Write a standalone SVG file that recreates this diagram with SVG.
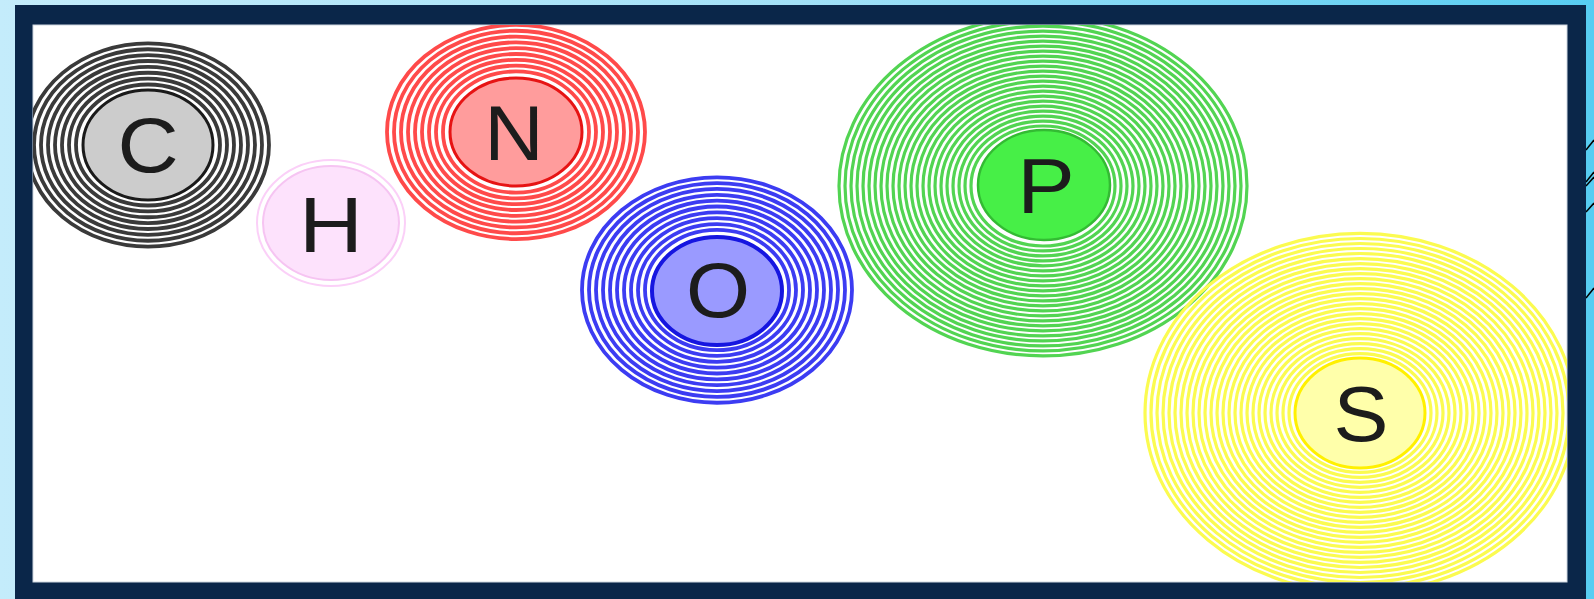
<svg xmlns="http://www.w3.org/2000/svg" width="1594" height="599" viewBox="0 0 1594 599">
<defs>
<linearGradient id="bg" x1="0" y1="0" x2="1" y2="0">
<stop offset="0" stop-color="#c4ecfb"/>
<stop offset="0.5" stop-color="#a3e1f8"/>
<stop offset="1" stop-color="#57cdf2"/>
</linearGradient>
<clipPath id="clip"><rect x="33" y="25" width="1534" height="557"/></clipPath>
</defs>
<style>
.ring{fill:none;vector-effect:non-scaling-stroke}
.rc{stroke:#3a3a3a;stroke-width:3.8}
.rn{stroke:#ff4a4a;stroke-width:3.8}
.ro{stroke:#3c3cf2;stroke-width:3.8}
.rp{stroke:#52d452;stroke-width:3.2}
.rs{stroke:#fbfb50;stroke-width:3.2}
.lbl{font-family:"Liberation Sans",Arial,sans-serif;font-size:77px;fill:#1c1c1c;text-anchor:middle}
.deco{stroke:#000;stroke-width:1.5}
</style>
<rect x="0" y="0" width="1594" height="599" fill="url(#bg)"/>
<g id="right-deco">
<line class="deco" x1="1586" y1="150" x2="1594" y2="140"/>
<line class="deco" x1="1586" y1="182" x2="1594" y2="172"/>
<line class="deco" x1="1586" y1="186" x2="1594" y2="177"/>
<line class="deco" x1="1586" y1="212" x2="1594" y2="203"/>
<line class="deco" x1="1586" y1="298" x2="1594" y2="288"/>
</g>
<rect id="frame" x="15" y="5" width="1571" height="594" fill="#0a2649"/>
<rect id="panel" x="33" y="25" width="1534" height="557" fill="#ffffff" stroke="#cdd6e0" stroke-width="1"/>
<g clip-path="url(#clip)">
<g id="atom-C">
<g transform="translate(148,145) scale(1,0.84)">
<circle class="ring rc" r="72"/><circle class="ring rc" r="79"/><circle class="ring rc" r="86"/><circle class="ring rc" r="93"/><circle class="ring rc" r="100"/><circle class="ring rc" r="107"/><circle class="ring rc" r="114"/><circle class="ring rc" r="121"/>
</g>
<ellipse cx="148" cy="145" rx="65" ry="55" fill="#cccccc" stroke="#1a1a1a" stroke-width="3"/>
<text class="lbl" transform="translate(148,172) scale(1.1,1)">C</text>
</g>
<g id="atom-H">
<ellipse cx="331" cy="223" rx="74" ry="63" fill="none" stroke="#fbd0f8" stroke-width="2"/>
<ellipse cx="331" cy="223" rx="68" ry="57" fill="#fde2fc" stroke="#f6c4f2" stroke-width="2"/>
<text class="lbl" transform="translate(331,252) scale(1.15,1)">H</text>
</g>
<g id="atom-N">
<g transform="translate(516,132) scale(1,0.83)">
<circle class="ring rn" r="73"/><circle class="ring rn" r="80"/><circle class="ring rn" r="87"/><circle class="ring rn" r="94"/><circle class="ring rn" r="101"/><circle class="ring rn" r="108"/><circle class="ring rn" r="115"/><circle class="ring rn" r="122"/><circle class="ring rn" r="129"/>
</g>
<ellipse cx="516" cy="132" rx="66" ry="54" fill="#ff9c9c" stroke="#e61414" stroke-width="3"/>
<text class="lbl" transform="translate(514,160) scale(1.07,1)">N</text>
</g>
<g id="atom-O">
<g transform="translate(717,290) scale(1,0.835)">
<circle class="ring ro" r="72"/><circle class="ring ro" r="79"/><circle class="ring ro" r="86"/><circle class="ring ro" r="93"/><circle class="ring ro" r="100"/><circle class="ring ro" r="107"/><circle class="ring ro" r="114"/><circle class="ring ro" r="121"/><circle class="ring ro" r="128"/><circle class="ring ro" r="135"/>
</g>
<ellipse cx="717" cy="291" rx="65" ry="54" fill="#9a9aff" stroke="#1616e0" stroke-width="4"/>
<text class="lbl" transform="translate(718,317) scale(1.07,1)">O</text>
</g>
<g id="atom-P">
<g transform="translate(1043,186) scale(1,0.833)">
<circle class="ring rp" r="72"/><circle class="ring rp" r="78"/><circle class="ring rp" r="84"/><circle class="ring rp" r="90"/><circle class="ring rp" r="96"/><circle class="ring rp" r="102"/><circle class="ring rp" r="108"/><circle class="ring rp" r="114"/><circle class="ring rp" r="120"/><circle class="ring rp" r="126"/><circle class="ring rp" r="132"/><circle class="ring rp" r="138"/><circle class="ring rp" r="144"/><circle class="ring rp" r="150"/><circle class="ring rp" r="156"/><circle class="ring rp" r="162"/><circle class="ring rp" r="168"/><circle class="ring rp" r="174"/><circle class="ring rp" r="180"/><circle class="ring rp" r="186"/><circle class="ring rp" r="192"/><circle class="ring rp" r="198"/><circle class="ring rp" r="204"/>
</g>
<ellipse cx="1044" cy="185" rx="66" ry="55" fill="#47ef47" stroke="#33bb33" stroke-width="2.5"/>
<text class="lbl" transform="translate(1046,213) scale(1.12,1)">P</text>
</g>
<g id="atom-S">
<g transform="translate(1360,413) scale(1,0.835)">
<circle class="ring rs" r="71"/><circle class="ring rs" r="77"/><circle class="ring rs" r="83"/><circle class="ring rs" r="89"/><circle class="ring rs" r="95"/><circle class="ring rs" r="101"/><circle class="ring rs" r="107"/><circle class="ring rs" r="113"/><circle class="ring rs" r="119"/><circle class="ring rs" r="125"/><circle class="ring rs" r="131"/><circle class="ring rs" r="137"/><circle class="ring rs" r="143"/><circle class="ring rs" r="149"/><circle class="ring rs" r="155"/><circle class="ring rs" r="161"/><circle class="ring rs" r="167"/><circle class="ring rs" r="173"/><circle class="ring rs" r="179"/><circle class="ring rs" r="185"/><circle class="ring rs" r="191"/><circle class="ring rs" r="197"/><circle class="ring rs" r="203"/><circle class="ring rs" r="209"/><circle class="ring rs" r="215"/>
</g>
<ellipse cx="1360" cy="413" rx="65" ry="55" fill="#ffffaa" stroke="#fff000" stroke-width="3"/>
<text class="lbl" transform="translate(1361,441) scale(1.07,1)">S</text>
</g>
</g>
</svg>
